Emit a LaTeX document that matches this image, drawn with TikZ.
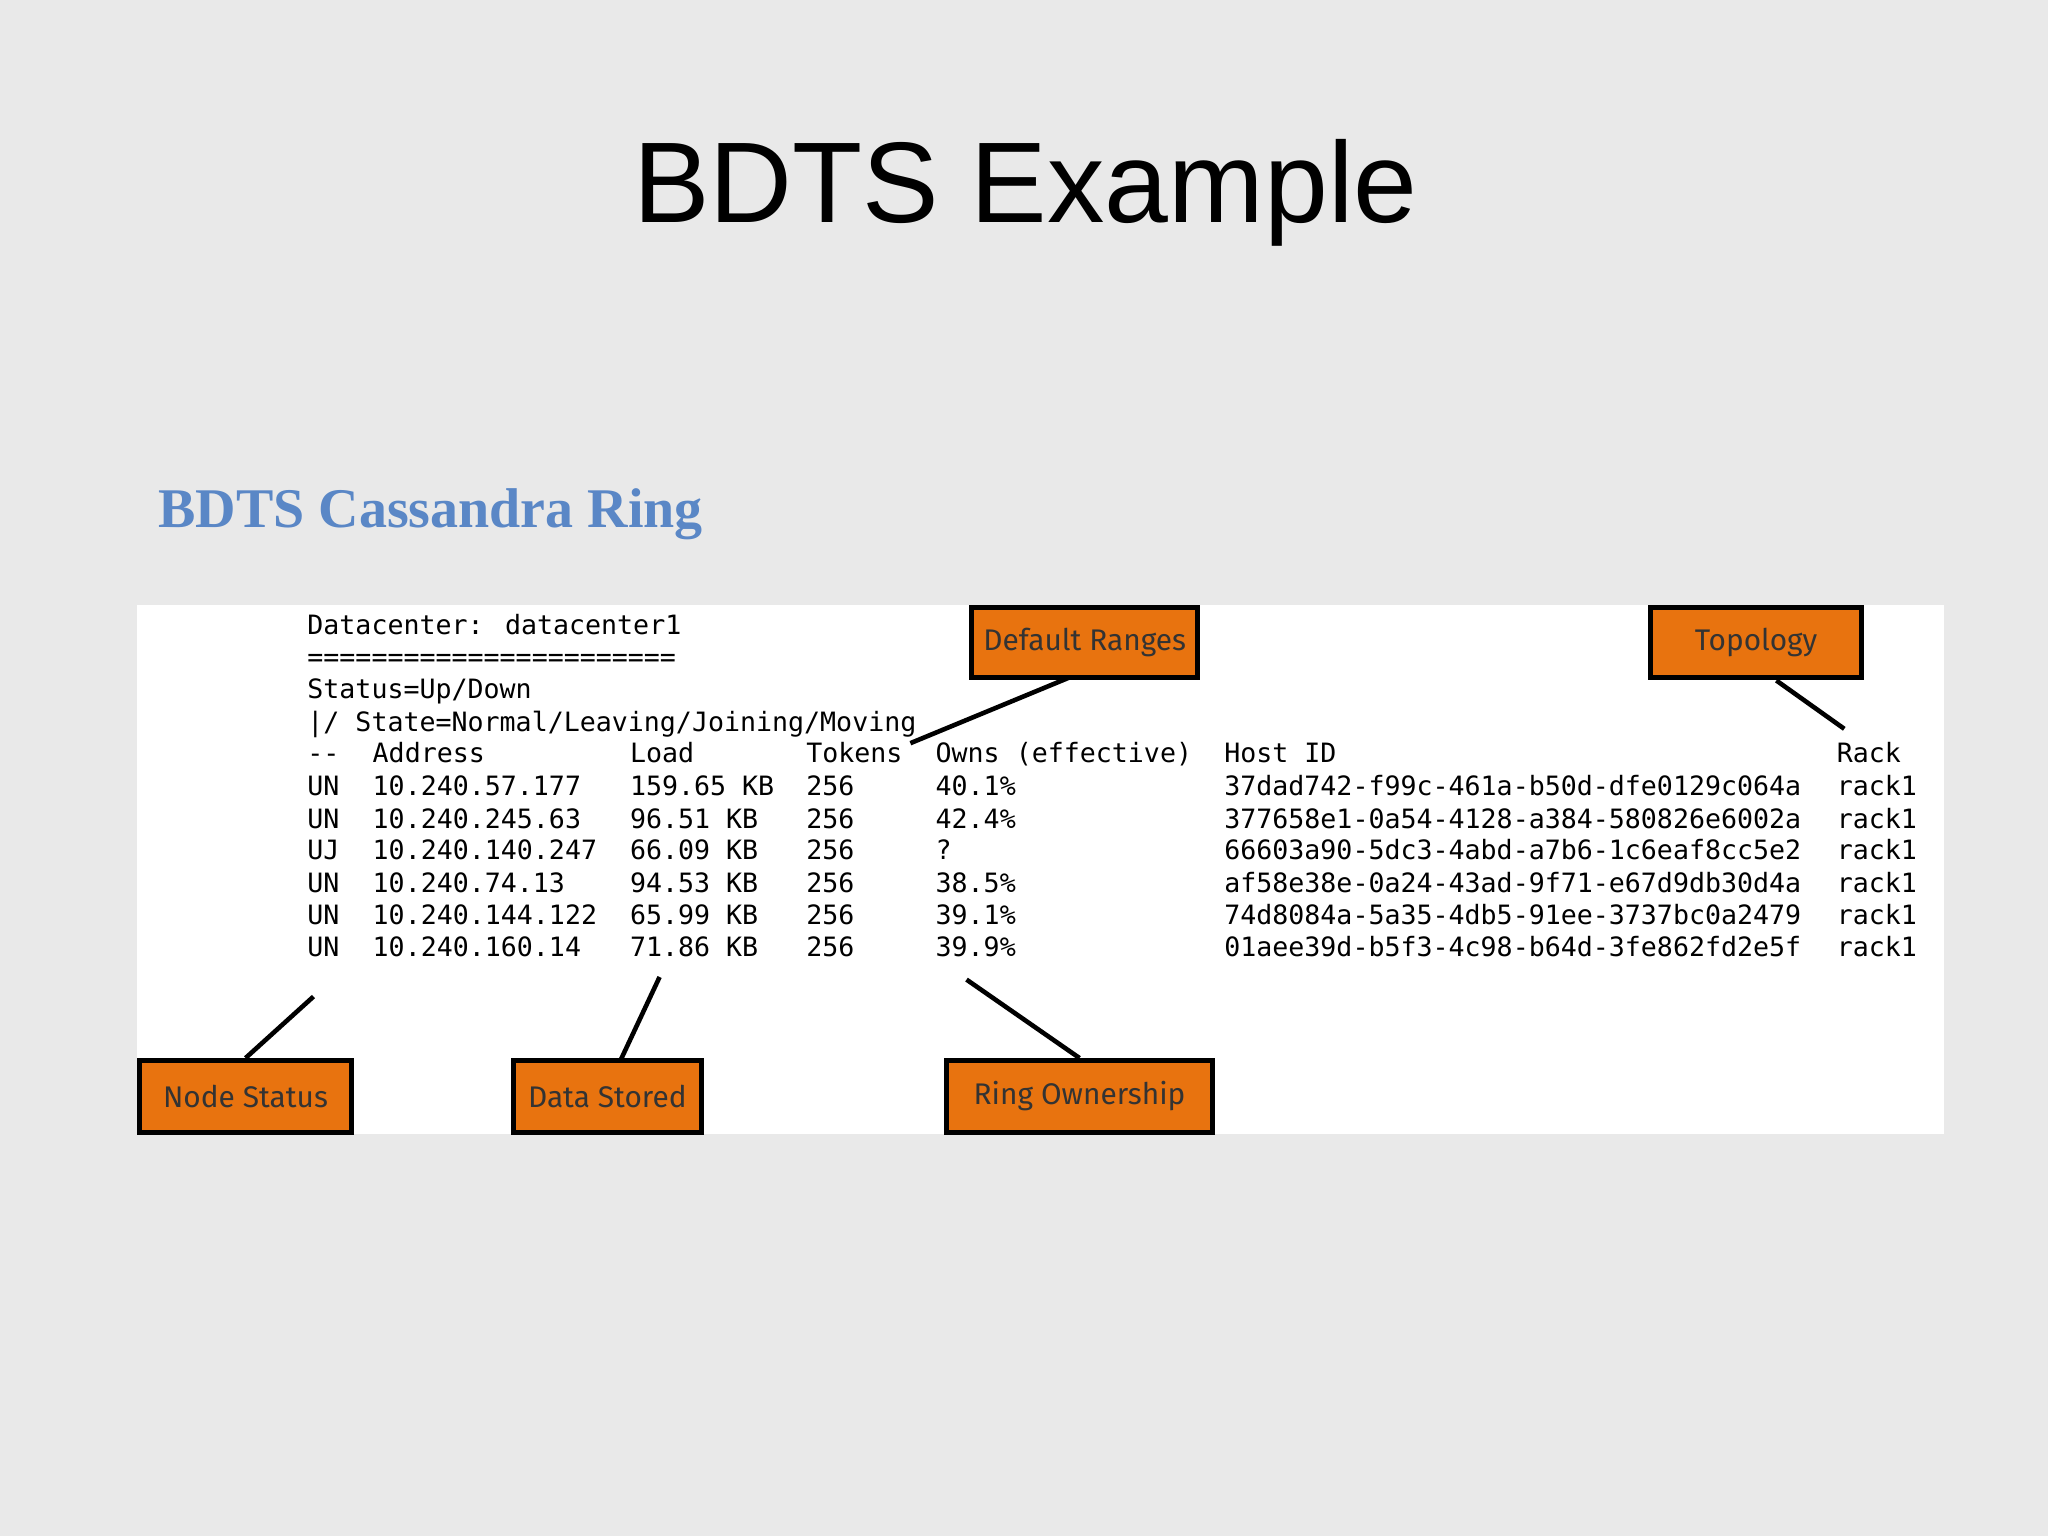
\documentclass[tikz,border=0pt]{standalone}
\usepackage{fontspec}
\setmainfont{Liberation Sans}
\newfontfamily\serifb{Liberation Serif}
\newfontfamily\mono{DejaVu Sans Mono}
\newfontfamily\tagfont{Fira Sans}
\definecolor{bg}{HTML}{E9E9E9}
\definecolor{org}{HTML}{E8730F}
\definecolor{sub}{HTML}{5A87C6}
\begin{document}
\begin{tikzpicture}[x=0.02cm,y=-0.02cm,
  tag/.style={draw=black,line width=2.2pt,fill=org,inner sep=0pt,font=\tagfont\fontsize{13}{13}\selectfont\color{black!80}},
  term/.style={anchor=base west,inner sep=0pt,font=\mono\fontsize{11.6}{12}\selectfont},
  lead/.style={line width=2pt}]
\fill[bg] (0,0) rectangle (1568,1176);
\useasboundingbox (0,0) rectangle (1568,1176);
\node (title) at (785,148) {\fontsize{50}{54}\selectfont BDTS Example};
\node[anchor=base west,inner sep=0pt,text=sub] (subt) at (121,404) {\serifb\bfseries\fontsize{24.4}{26}\selectfont BDTS Cassandra Ring};
\fill[white] (105,463) rectangle (1488,868);
% terminal lines
\node[term] (l1) at (235,486) {Datacenter: datacenter1};
\node[term] (l2) at (235,510) {=======================};
\node[term] (l3) at (235,535) {Status=Up/Down};
\node[term] (l4) at (235,560) {|/ State=Normal/Leaving/Joining/Moving};
\foreach \y/\a/\b/\c/\d/\e/\f/\g in {
  584/--/Address/Load/Tokens/Owns (effective)/Host ID/Rack,
  609/UN/10.240.57.177/159.65 KB/256/40.1\%/37dad742-f99c-461a-b50d-dfe0129c064a/rack1,
  634/UN/10.240.245.63/96.51 KB/256/42.4\%/377658e1-0a54-4128-a384-580826e6002a/rack1,
  658/UJ/10.240.140.247/66.09 KB/256/?/66603a90-5dc3-4abd-a7b6-1c6eaf8cc5e2/rack1,
  683/UN/10.240.74.13/94.53 KB/256/38.5\%/af58e38e-0a24-43ad-9f71-e67d9db30d4a/rack1,
  708/UN/10.240.144.122/65.99 KB/256/39.1\%/74d8084a-5a35-4db5-91ee-3737bc0a2479/rack1,
  732/UN/10.240.160.14/71.86 KB/256/39.9\%/01aee39d-b5f3-4c98-b64d-3fe862fd2e5f/rack1}{
  \node[term] at (235,\y) {\a};
  \node[term] at (285,\y) {\b};
  \node[term] at (482,\y) {\c};
  \node[term] at (617,\y) {\d};
  \node[term] at (716,\y) {\e};
  \node[term] at (937,\y) {\f};
  \node[term] at (1406,\y) {\g};
}
% tags
\node[tag,minimum width=173*0.02cm,minimum height=54*0.02cm] (dr) at (830.5,492) {Default Ranges};
\node[tag,minimum width=161*0.02cm,minimum height=54*0.02cm] (topo) at (1344.5,492) {Topology};
\node[tag,minimum width=162*0.02cm,minimum height=55*0.02cm] (ns) at (188,839.5) {Node Status};
\node[tag,minimum width=144*0.02cm,minimum height=55*0.02cm] (ds) at (465,839.5) {Data Stored};
\node[tag,minimum width=203*0.02cm,minimum height=55*0.02cm] (ro) at (826.5,839.5) {Ring Ownership};
\coordinate (pdr) at (697,569);
\coordinate (ptopo) at (1412,558);
\coordinate (pns) at (240,763);
\coordinate (pds) at (505,748);
\coordinate (pro) at (740,750);
\draw[lead] (818,519) -- (pdr);
\draw[lead] (1360,521) -- (ptopo);
\draw[lead] (ns.north) -- (pns);
\draw[lead] (475,812) -- (pds);
\draw[lead] (ro.north) -- (pro);
\end{tikzpicture}
\end{document}
